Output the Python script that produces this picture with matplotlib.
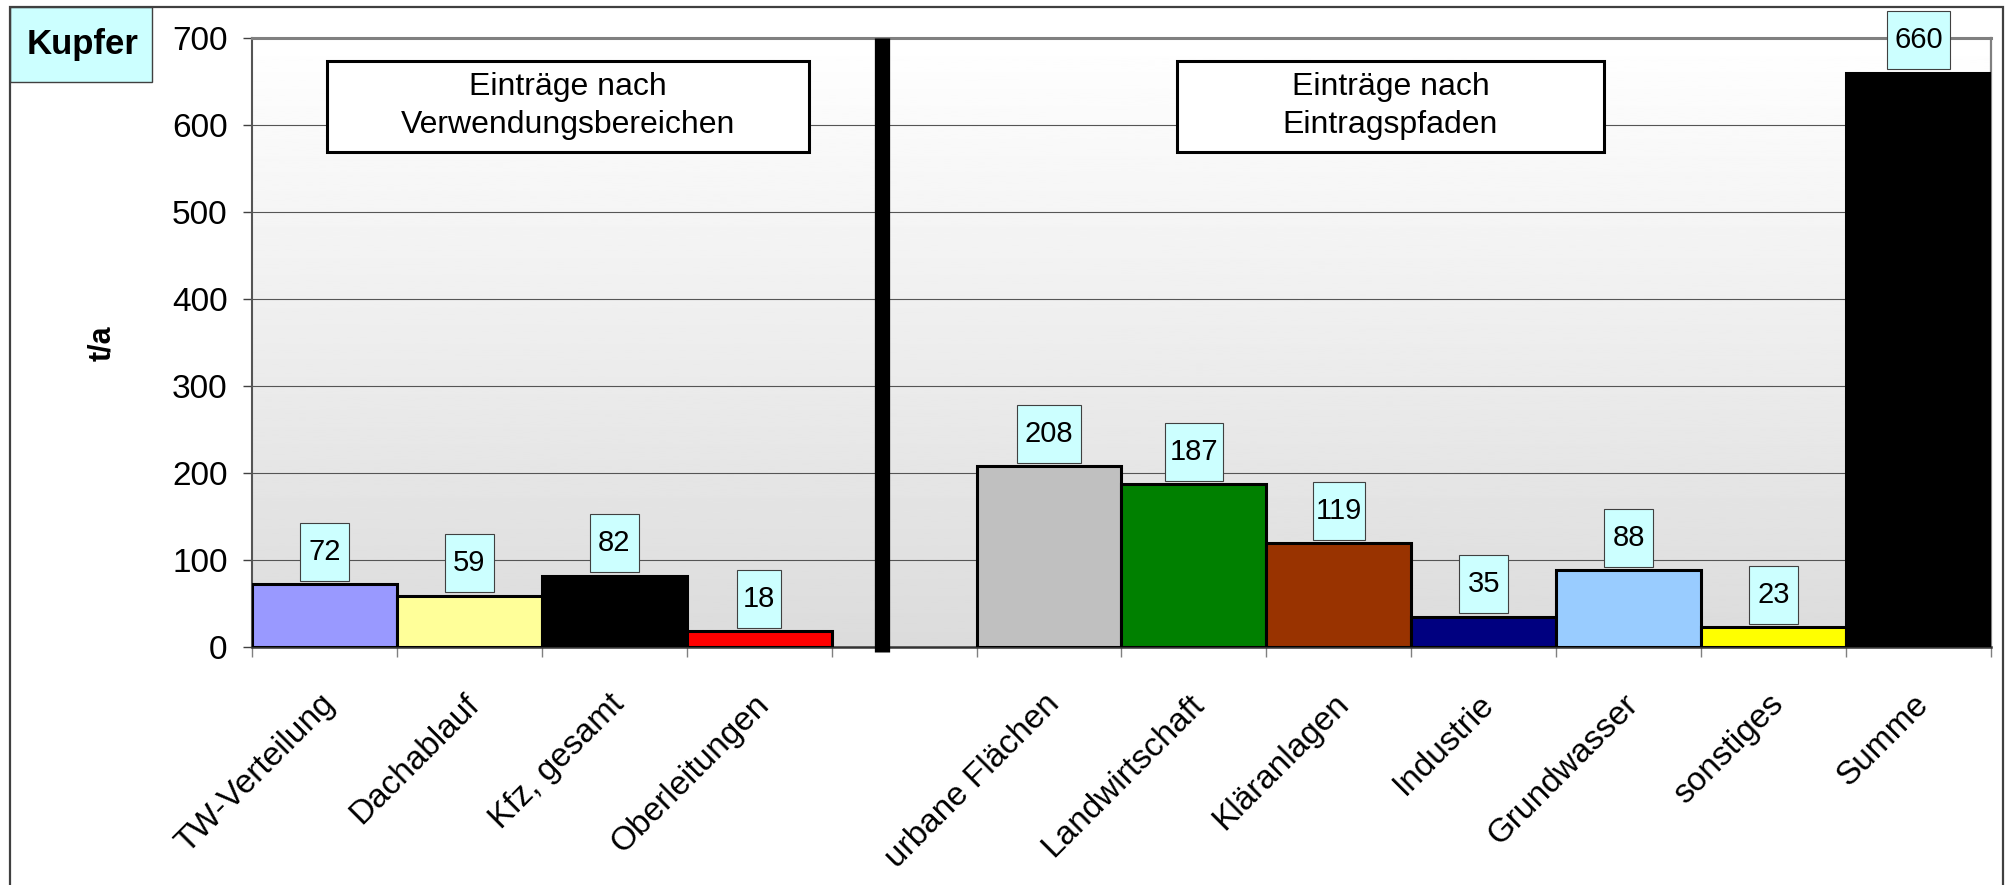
import numpy as np
import matplotlib
matplotlib.use("Agg")
import matplotlib.pyplot as plt
from matplotlib.patches import Rectangle
from matplotlib.transforms import ScaledTranslation

plt.rcParams['font.family'] = ['Liberation Sans', 'DejaVu Sans']

# Einträge nach Verwendungsbereichen
cats_use = ["TW-Verteilung", "Dachablauf", "Kfz, gesamt", "Oberleitungen"]
vals_use = [72, 59, 82, 18]
cols_use = ["#9999FF", "#FFFF99", "#000000", "#FF0000"]

# Einträge nach Eintragspfaden
cats_path = ["urbane Flächen", "Landwirtschaft", "Kläranlagen", "Industrie",
             "Grundwasser", "sonstiges", "Summe"]
vals_path = [208, 187, 119, 35, 88, 23, 660]
cols_path = ["#C0C0C0", "#008000", "#993300", "#000080",
             "#99CCFF", "#FFFF00", "#000000"]

yticks = list(range(0, 800, 100))

# slot 4 stays empty (separator)
pos = list(range(4)) + list(range(5, 12))
cats = cats_use + cats_path
vals = vals_use + vals_path
cols = cols_use + cols_path

fig = plt.figure(figsize=(20.09, 8.85), dpi=100)
ax = fig.add_axes([0.1254, 0.2689, 0.8656, 0.6881])
ax.set_xlim(-0.5, 11.5)
ax.set_ylim(0, 700)

# gradient background
grad = np.linspace(0.86, 1.0, 256).reshape(-1, 1)
ax.imshow(grad, extent=[-0.5, 11.5, 0, 700], origin='lower', aspect='auto',
          cmap='gray', vmin=0, vmax=1, zorder=0)

for y in yticks[1:-1]:
    ax.axhline(y, color='#555555', lw=0.8, zorder=1)

ax.bar(pos, vals, width=1.0, color=cols, edgecolor='black', linewidth=2.2, zorder=3)

# separator line
ax.plot([3.85, 3.85], [-6, 700], color='black', lw=11, solid_capstyle='butt',
        zorder=4, clip_on=False)

# value boxes
px_x = fig.get_figwidth() * fig.dpi * 0.8656 / 12
px_y = fig.get_figheight() * fig.dpi * 0.6881 / 700
for x, v in zip(pos, vals):
    s = str(v)
    w = (20 + sum(9 if c == '1' else 14.5 for c in s)) / px_x
    h = 58 / px_y
    y0 = v + 3.5 / px_y
    ax.add_patch(Rectangle((x - w / 2, y0), w, h, facecolor='#CCFFFF',
                           edgecolor='#404040', lw=0.8, zorder=5, clip_on=False))
    ax.text(x, y0 + h / 2, s, ha='center', va='center', fontsize=21,
            zorder=6, clip_on=False)

# heading boxes
for x0, x1, txt in [(0.0431, 0.3203, "Einträge nach\nVerwendungsbereichen"),
                    (0.5319, 0.7775, "Einträge nach\nEintragspfaden")]:
    ax.add_patch(Rectangle((x0, 0.8128), x1 - x0, 0.1494, transform=ax.transAxes,
                           facecolor='white', edgecolor='black', lw=2.2, zorder=5))
    ax.text((x0 + x1) / 2, 0.889, txt, transform=ax.transAxes, ha='center',
            va='center', fontsize=23, linespacing=1.35, zorder=6)

# axes styling
ax.spines['top'].set_color('#808080')
ax.spines['top'].set_linewidth(2.2)
ax.spines['right'].set_color('#808080')
ax.spines['right'].set_linewidth(1.6)
ax.spines['left'].set_color('#555555')
ax.spines['left'].set_linewidth(1.5)
ax.spines['bottom'].set_color('#333333')
ax.spines['bottom'].set_linewidth(1.8)

ax.set_yticks(yticks)
ax.tick_params(axis='y', labelsize=24, length=6.5, width=1, color='#404040', pad=11)

ax.set_xticks(pos)
ax.set_xticklabels(cats, rotation=45, ha='right', va='top', rotation_mode='anchor',
                   fontsize=24)
ax.set_xticks(np.arange(-0.5, 12, 1), minor=True)
ax.tick_params(axis='x', which='major', length=0, pad=30)
ax.tick_params(axis='x', which='minor', length=7.5, width=1, color='#808080')
shift = ScaledTranslation(-4 / 72, 0, fig.dpi_scale_trans)
for lab in ax.get_xticklabels():
    lab.set_transform(lab.get_transform() + shift)

fig.text(0.0508, 0.6124, "t/a", rotation=90, fontsize=22, fontweight='bold',
         ha='center', va='center')

# title box
fig.patches.append(Rectangle((0.005, 0.9073), 0.0707, 0.0848, transform=fig.transFigure,
                             facecolor='#CCFFFF', edgecolor='#404040', lw=1.0))
fig.text(0.0413, 0.9497, "Kupfer", fontsize=25, fontweight='bold',
         ha='center', va='center')

# outer frame
fig.patches.append(Rectangle((0.005, -0.02), 0.992, 1.012, transform=fig.transFigure,
                             facecolor='none', edgecolor='#404040', lw=1.6, zorder=10))

fig.savefig("out.png", dpi=100)
